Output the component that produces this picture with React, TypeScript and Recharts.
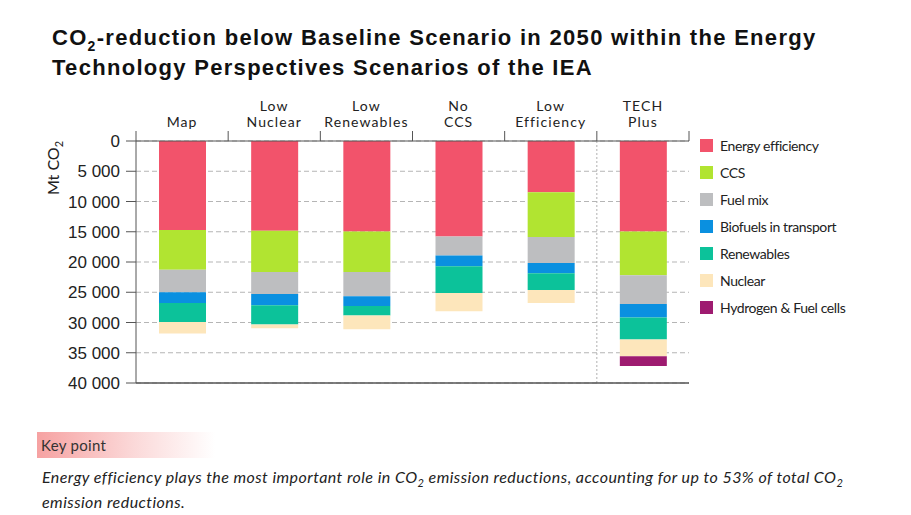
import React from "react";
import {
  BarChart,
  Bar,
  XAxis,
  YAxis,
  CartesianGrid,
  ReferenceLine,
} from "recharts";

// Scenario labels, split into the lines shown above each column
const scenarioLines: string[][] = [
  ["Map"],
  ["Low", "Nuclear"],
  ["Low", "Renewables"],
  ["No", "CCS"],
  ["Low", "Efficiency"],
  ["TECH", "Plus"],
];
const scenarios = scenarioLines.map((l) => l.join(" "));

// Mt CO2 reductions per measure
const energyEfficiency = [14700, 14840, 14950, 15780, 8460, 14950];
const ccs = [6570, 6810, 6700, 0, 7420, 7260];
const fuelMix = [3730, 3630, 4020, 3130, 4290, 4720];
const biofuels = [1770, 1870, 1590, 1810, 1710, 2250];
const renewables = [3130, 3190, 1600, 4390, 2740, 3630];
const nuclear = [1920, 610, 2250, 3030, 2150, 2750];
const hydrogen = [0, 0, 0, 0, 0, 1650];

const seriesNames = [
  "Energy efficiency",
  "CCS",
  "Fuel mix",
  "Biofuels in transport",
  "Renewables",
  "Nuclear",
  "Hydrogen & Fuel cells",
];
const seriesValues = [energyEfficiency, ccs, fuelMix, biofuels, renewables, nuclear, hydrogen];
const seriesColors = ["#f2536b", "#b1e431", "#bdbec0", "#0a90e0", "#0cc29a", "#fde6bb", "#9e1b70"];

const yTicks = [0, 5000, 10000, 15000, 20000, 25000, 30000, 35000, 40000];

const data = scenarios.map((name, i) => {
  const row: Record<string, string | number> = { name };
  seriesNames.forEach((_, j) => {
    row[`s${j}`] = seriesValues[j][i];
  });
  return row;
});

const LABEL_FONT = "Lato, 'Open Sans', sans-serif";
const AXIS = "#555";

const formatThousands = (v: number) =>
  String(v).replace(/\B(?=(\d{3})+(?!\d))/g, " ");

const ScenarioTick = ({ x, y, payload, index }: any) => {
  const lines = scenarioLines[scenarios.indexOf(payload.value)] ?? [payload.value];
  const half = payload.offset ?? 0;
  return (
    <g>
      {lines.map((t, k) => (
        <text
          key={k}
          x={x}
          y={y - 14 - (lines.length - 1 - k) * 16}
          textAnchor="middle"
          fontFamily={LABEL_FONT}
          fontSize={14}
          letterSpacing={1.1}
          fill="#222"
        >
          {t}
        </text>
      ))}
      <line x1={x + half} x2={x + half} y1={y - 10} y2={y} stroke={AXIS} />
      {index === 0 && (
        <line x1={x - half} x2={x - half} y1={y - 10} y2={y} stroke={AXIS} />
      )}
    </g>
  );
};

const UnitLabel = ({ viewBox }: any) => {
  const cx = viewBox.x + 3;
  const cy = viewBox.y + 27;
  return (
    <text
      transform={`translate(${cx},${cy}) rotate(-90)`}
      textAnchor="middle"
      fontFamily={LABEL_FONT}
      fontSize={16}
      fill="#222"
    >
      Mt CO<tspan fontSize={11} dy={4}>2</tspan>
    </text>
  );
};

export default function App() {
  return (
    <div
      style={{
        position: "absolute",
        left: 0,
        top: 0,
        width: 911,
        height: 515,
        background: "#fff",
        overflow: "hidden",
      }}
    >
      <div
        style={{
          position: "absolute",
          left: 52,
          top: 24,
          fontFamily: "'Liberation Sans', Arial, sans-serif",
          fontWeight: 700,
          fontSize: 22,
          letterSpacing: 1.3,
          lineHeight: "28px",
          color: "#111",
          whiteSpace: "nowrap",
        }}
      >
        CO<span style={{ fontSize: 14, position: "relative", top: 6 }}>2</span>-reduction below
        Baseline Scenario in 2050 within the Energy
        <br />
        Technology Perspectives Scenarios of the IEA
      </div>

      <div style={{ position: "absolute", left: 0, top: 0 }}>
        <BarChart
          width={911}
          height={400}
          data={data}
          margin={{ top: 91, right: 222, bottom: 17, left: 56 }}
          barSize={47}
        >
          <CartesianGrid
            horizontal
            vertical={false}
            stroke="#b5b5b5"
            strokeDasharray="5 3"
          />
          <CartesianGrid
            horizontal={false}
            vertical
            stroke="#b0b0b0"
            strokeDasharray="2 2"
            verticalCoordinatesGenerator={(props: any) => [
              props.offset.left + (props.offset.width * 5) / 6,
            ]}
          />
          <XAxis
            dataKey="name"
            orientation="top"
            height={50}
            interval={0}
            tickSize={0}
            tickMargin={0}
            tickLine={false}
            axisLine={{ stroke: AXIS }}
            tick={<ScenarioTick />}
          />
          <YAxis
            type="number"
            domain={[0, 40000]}
            ticks={yTicks}
            reversed
            width={80}
            interval={0}
            tickSize={10}
            tickMargin={6}
            tickFormatter={formatThousands}
            axisLine={{ stroke: AXIS }}
            tickLine={{ stroke: AXIS }}
            tick={{
              fill: "#222",
              fontSize: 17,
              fontFamily: "'Liberation Sans', Arial, sans-serif",
            }}
            label={<UnitLabel />}
          />
          <YAxis
            yAxisId="r"
            orientation="right"
            width={0}
            tick={false}
            tickLine={false}
            axisLine={{ stroke: AXIS }}
          />
          {seriesNames.map((s, j) => (
            <Bar
              key={s}
              dataKey={`s${j}`}
              name={s}
              stackId="a"
              fill={seriesColors[j]}
              isAnimationActive={false}
            />
          ))}
          <ReferenceLine y={40000} stroke={AXIS} strokeWidth={1.5} />
        </BarChart>
      </div>

      {/* legend */}
      <div style={{ position: "absolute", left: 700, top: 139 }}>
        {seriesNames.map((s, j) => (
          <div
            key={s}
            style={{ display: "flex", alignItems: "center", height: 27, marginTop: j === 0 ? -7 : 0 }}
          >
            <div style={{ width: 13, height: 13, background: seriesColors[j] }} />
            <span
              style={{
                marginLeft: 7,
                fontFamily: LABEL_FONT,
                fontSize: 14,
                letterSpacing: -0.4,
                color: "#222",
              }}
            >
              {s}
            </span>
          </div>
        ))}
      </div>

      <div
        style={{
          position: "absolute",
          left: 37,
          top: 432,
          width: 178,
          height: 26,
          background: "linear-gradient(to right, #f6a2a2, #fbd9d9 55%, #ffffff)",
        }}
      />
      <div
        style={{
          position: "absolute",
          left: 41,
          top: 436,
          fontFamily: LABEL_FONT,
          fontSize: 15,
          color: "#333",
          letterSpacing: 0.3,
        }}
      >
        Key point
      </div>
      <div
        style={{
          position: "absolute",
          left: 42,
          top: 465,
          width: 860,
          fontFamily: LABEL_FONT,
          fontStyle: "italic",
          fontSize: 16,
          letterSpacing: 0.45,
          lineHeight: "23px",
          color: "#222",
          whiteSpace: "nowrap",
        }}
      >
        Energy efficiency plays the most important role in CO
        <span style={{ fontSize: 11, position: "relative", top: 4 }}>2</span> emission
        reductions, accounting for up to 53% of total CO
        <span style={{ fontSize: 11, position: "relative", top: 4 }}>2</span>
        <br />
        emission reductions.
      </div>
    </div>
  );
}
